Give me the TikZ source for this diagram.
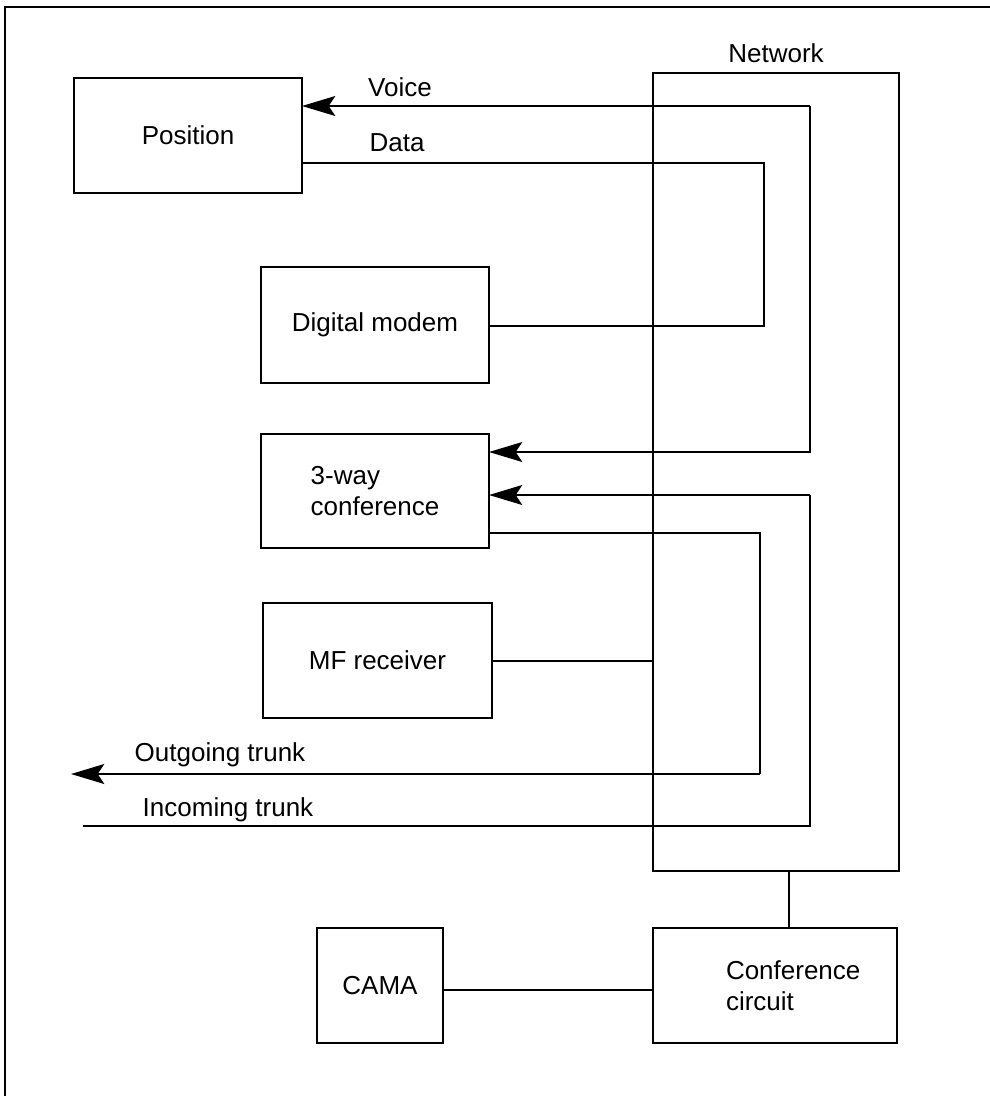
\documentclass[tikz,border=0pt]{standalone}
\usepackage{fontspec}
\setmainfont{Liberation Sans}
\usetikzlibrary{arrows.meta}
\begin{document}
\begin{tikzpicture}[x=0.75pt,y=-0.75pt,
  font=\fontsize{19.5pt}{23.5pt}\selectfont,
  every path/.style={line width=1.2pt},
  blk/.style={draw,rectangle,inner sep=0pt,outer sep=0pt,line width=1.2pt,align=center},
  lbl/.style={inner sep=0pt,outer sep=0pt},
  arr/.style={-{Stealth[length=25pt,width=15pt,inset=5pt]}}]
\useasboundingbox (0,0) rectangle (989,1096);
% frame (top and left edges only)
\draw[line width=0.8pt] (5,1096) -- (5,7) -- (995,7);
% boxes
\node[blk,minimum width=171pt,minimum height=86.25pt] (pos) at (188,135.5) {Position};
\node[blk,minimum width=171pt,minimum height=87pt] (modem) at (375,325) {Digital modem};
\node[blk,minimum width=171pt,minimum height=85.5pt,align=left] (conf3) at (375,491) {3-way\\conference};
\node[blk,minimum width=171.75pt,minimum height=86.25pt] (mf) at (377.5,660.5) {MF receiver};
\node[blk,minimum width=184.5pt,minimum height=598.5pt] (net) at (776,472) {};
\node[blk,minimum width=94.5pt,minimum height=86.25pt] (cama) at (380,985.5) {CAMA};
\node[blk,minimum width=183pt,minimum height=86.25pt] (cc) at (775,985.5) {};
\node[lbl,anchor=west,align=left] (cctext) at (726,986) {Conference\\circuit};
% labels
\node[lbl] (lvoice) at (400,87) {Voice};
\node[lbl] (ldata) at (397,143) {Data};
\node[lbl] (lnet) at (776,53) {Network};
\node[lbl] (lout) at (220,755) {Outgoing trunk};
\node[lbl] (lin) at (228,810) {Incoming trunk};
% corner coordinates
\coordinate (vA) at (810,106);
\coordinate (vB) at (810,452);
\coordinate (dA) at (764,163);
\coordinate (dB) at (764,326);
\coordinate (iA) at (810,495);
\coordinate (iB) at (810,826);
\coordinate (oA) at (760,533);
\coordinate (oB) at (760,774);
\coordinate (outEnd) at (71,774);
\coordinate (inEnd) at (83,826);
\coordinate (nc) at (789,900);
% connectors
\draw[arr] (vA) -- (vA -| pos.east);
\draw[arr] (vA) -- (vB) -- (vB -| conf3.east);
\draw (pos.east |- dA) -- (dA) -- (dB) -- (dB -| modem.east);
\draw (inEnd) -- (iB) -- (iA);
\draw[arr] (iA) -- (iA -| conf3.east);
\draw (conf3.east |- oA) -- (oA) -- (oB);
\draw[arr] (oB) -- (outEnd);
\draw (mf.east |- 0,661) -- (net.west |- 0,661);
\draw (net.south -| nc) -- (cc.north -| nc);
\draw (cama.east |- 0,990) -- (cc.west |- 0,990);
\end{tikzpicture}
\end{document}
